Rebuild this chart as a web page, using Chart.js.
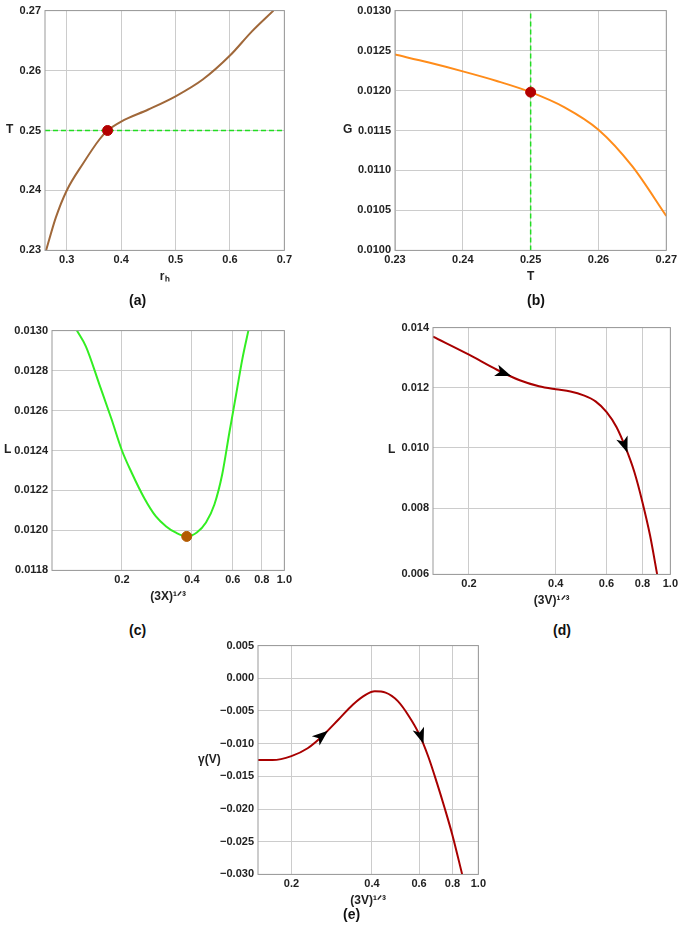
<!DOCTYPE html>
<html>
<head>
<meta charset="utf-8">
<script src="https://cdn.jsdelivr.net/npm/chart.js@4"></script>
<style>
  body { margin: 0; background: #fff; font-family: 'Liberation Sans', Arial, sans-serif; }
  .box { position: absolute; }
  .lbl { position: absolute; font-weight: bold; font-size: 12px; color: #222; }
  .cap { position: absolute; font-weight: bold; font-size: 14px; color: #111; }
</style>
</head>
<body>
<div class="box" style="left:0;top:0;width:295px;height:300px"><canvas id="ca"></canvas></div>
<div class="box" style="left:345px;top:0;width:335px;height:300px"><canvas id="cb"></canvas></div>
<div class="box" style="left:0;top:320px;width:295px;height:288px"><canvas id="cc"></canvas></div>
<div class="box" style="left:378px;top:317px;width:303px;height:295px"><canvas id="cd"></canvas></div>
<div class="box" style="left:200px;top:635px;width:289px;height:277px"><canvas id="ce"></canvas></div>

<div class="lbl" style="left:6px;top:122px">T</div>
<div class="lbl" style="left:343px;top:122px">G</div>
<div class="lbl" style="left:4px;top:442px">L</div>
<div class="lbl" style="left:388px;top:442px">L</div>
<div class="lbl" style="left:198px;top:752px">γ(V)</div>
<div class="cap" style="left:129px;top:292px">(a)</div>
<div class="cap" style="left:527px;top:292px">(b)</div>
<div class="cap" style="left:129px;top:622px">(c)</div>
<div class="cap" style="left:553px;top:622px">(d)</div>
<div class="cap" style="left:343px;top:906px">(e)</div>

<script>
// (a) T vs r_h
const rhA = [0.262, 0.28, 0.3, 0.33, 0.36, 0.375, 0.4, 0.45, 0.5, 0.55, 0.6, 0.64, 0.68];
const tA = [0.23, 0.2355, 0.24, 0.2445, 0.2485, 0.25, 0.2515, 0.2535, 0.2557, 0.2585, 0.2625, 0.2665, 0.27];
const critA = [0.375, 0.25];
const ticksA = [0.3, 0.4, 0.5, 0.6, 0.7];

// (b) G vs T
const tB = [0.23, 0.235, 0.24, 0.245, 0.25, 0.255, 0.26, 0.265, 0.27];
const gB = [0.01245, 0.01235, 0.01224, 0.01212, 0.01198, 0.01179, 0.01151, 0.01105, 0.01043];
const critB = [0.25, 0.01198];

// (c) L vs (3X)^1/3
const xC = [0.128, 0.14, 0.16, 0.18, 0.2, 0.22, 0.25, 0.28, 0.31, 0.34, 0.38, 0.42, 0.46, 0.5, 0.54, 0.58, 0.62, 0.66, 0.7];
const lC = [0.0130, 0.01292, 0.01273, 0.01256, 0.0124, 0.01229, 0.01216, 0.01207, 0.01202, 0.01199, 0.01197, 0.01199, 0.01204, 0.01213, 0.01228, 0.01249, 0.01268, 0.01286, 0.0130];
const critC = [0.38, 0.01197];

// (d) L vs (3V)^1/3
const xD = [0.15, 0.2, 0.25, 0.3, 0.35, 0.4, 0.45, 0.5, 0.55, 0.6, 0.65, 0.7, 0.75, 0.8, 0.85, 0.9];
const lD = [0.0137, 0.0131, 0.0126, 0.01225, 0.01205, 0.01195, 0.01188, 0.01175, 0.01155, 0.0112, 0.0107, 0.0100, 0.0092, 0.0082, 0.0071, 0.0058];
const arrowsD = [[0.27, 0.01245], [0.7, 0.0100]];

// (e) gamma(V) vs (3V)^1/3
const xE = [0.15, 0.17, 0.2, 0.23, 0.26, 0.3, 0.34, 0.38, 0.41, 0.45, 0.5, 0.55, 0.6, 0.65, 0.7, 0.75, 0.8, 0.87];
const gE = [-0.0125, -0.0125, -0.0119, -0.0107, -0.0089, -0.0063, -0.0040, -0.0025, -0.0020, -0.0022, -0.0035, -0.0058, -0.0085, -0.0120, -0.0160, -0.0200, -0.0240, -0.0300];
const arrowsE = [[0.265, -0.0085], [0.615, -0.0093]];

const logTicks = [0.2, 0.4, 0.6, 0.8, 1.0];
const tickFont = { family: 'Liberation Sans', weight: 'bold', size: 11 };
const pts = (xs, ys) => xs.map((x, i) => ({ x, y: ys[i] }));

const framePlugin = {
  id: 'frame',
  afterDraw(chart) {
    const { ctx, chartArea: a } = chart;
    ctx.save();
    ctx.strokeStyle = '#999';
    ctx.lineWidth = 1;
    ctx.strokeRect(a.left, a.top, a.right - a.left, a.bottom - a.top);
    ctx.restore();
  }
};

const arrowPlugin = {
  id: 'arrows',
  afterDatasetsDraw(chart, args, opts) {
    if (!opts.list) return;
    const { ctx, scales } = chart;
    opts.list.forEach(([x, y]) => {
      const px = scales.x.getPixelForValue(x), py = scales.y.getPixelForValue(y);
      const px2 = scales.x.getPixelForValue(x * 1.03), py2 = scales.y.getPixelForValue(opts.at(x * 1.03));
      const ang = Math.atan2(py2 - py, px2 - px);
      ctx.save();
      ctx.translate(px, py);
      ctx.rotate(ang);
      ctx.fillStyle = '#000';
      ctx.beginPath();
      ctx.moveTo(5, 0);
      ctx.lineTo(-11, -6);
      ctx.lineTo(-7, 0);
      ctx.lineTo(-11, 6);
      ctx.closePath();
      ctx.fill();
      ctx.restore();
    });
  }
};

function interp(xs, ys) {
  return x => {
    for (let i = 0; i < xs.length - 1; i++) {
      if (x >= xs[i] && x <= xs[i + 1]) {
        const t = (x - xs[i]) / (xs[i + 1] - xs[i]);
        return ys[i] + t * (ys[i + 1] - ys[i]);
      }
    }
    return ys[ys.length - 1];
  };
}

function fmtY(v, d) {
  const s = (+v).toFixed(d);
  return Math.abs(v) < 1e-9 ? (0).toFixed(d) : s.replace('-', '−');
}

function makePanel(id, o) {
  const xScale = {
    type: o.log ? 'logarithmic' : 'linear',
    min: o.xmin, max: o.xmax,
    grid: { color: '#ccc', drawTicks: false },
    border: { display: false },
    ticks: { font: tickFont, color: '#222', padding: 3, autoSkip: false, maxRotation: 0,
      callback: v => (+v).toFixed(o.xdec) },
    title: { display: true, text: o.xtitle, font: { family: 'Liberation Sans', weight: 'bold', size: 12 }, color: '#222', padding: { top: 0 } },
    afterBuildTicks: s => { s.ticks = o.xticks.filter(v => v >= o.xmin - 1e-9 && v <= o.xmax + 1e-9).map(v => ({ value: v })); }
  };
  new Chart(document.getElementById(id), {
    type: 'scatter',
    data: { datasets: o.datasets },
    options: {
      responsive: true, maintainAspectRatio: false, animation: false,
      layout: { padding: { top: o.pt, right: 5, bottom: o.pb || 0 } },
      plugins: { legend: { display: false }, tooltip: { enabled: false }, arrows: { list: o.arrows, at: o.at } },
      scales: {
        x: xScale,
        y: {
          min: o.ymin, max: o.ymax,
          grid: { color: '#ccc', drawTicks: false },
          border: { display: false },
          ticks: { font: tickFont, color: '#222', padding: 4, stepSize: o.ystep, callback: v => fmtY(v, o.ydec) },
          afterFit: s => { s.width = o.yw; }
        }
      }
    },
    plugins: [framePlugin, arrowPlugin]
  });
}

const curve = (data, color, w) => ({ data, showLine: true, borderColor: color, borderWidth: w || 2, pointRadius: 0, tension: 0.4, cubicInterpolationMode: 'monotone' });
const dot = (p, color) => ({ data: [{ x: p[0], y: p[1] }], pointRadius: 5, backgroundColor: color, borderColor: color });

makePanel('ca', {
  xmin: 0.26, xmax: 0.7, xticks: ticksA, xdec: 1, ymin: 0.23, ymax: 0.27, ystep: 0.01, ydec: 2,
  xtitle: 'rₕ', yw: 45, pt: 5, pb: 12,
  datasets: [
    dot(critA, '#b30000'),
    { data: [{ x: 0.26, y: 0.25 }, { x: 0.7, y: 0.25 }], showLine: true, borderColor: '#22dd22', borderWidth: 1.5, borderDash: [5, 3], pointRadius: 0 },
    curve(pts(rhA, tA), '#a0683a')
  ]
});

makePanel('cb', {
  xmin: 0.23, xmax: 0.27, xticks: [0.23, 0.24, 0.25, 0.26, 0.27], xdec: 2, ymin: 0.01, ymax: 0.013, ystep: 0.0005, ydec: 4,
  xtitle: 'T', yw: 50, pt: 5, pb: 12,
  datasets: [
    dot(critB, '#b30000'),
    { data: [{ x: 0.25, y: 0.01 }, { x: 0.25, y: 0.013 }], showLine: true, borderColor: '#22dd22', borderWidth: 1.5, borderDash: [5, 3], pointRadius: 0 },
    curve(pts(tB, gB), '#ff8c1a')
  ]
});

makePanel('cc', {
  log: true, xmin: 0.1, xmax: 1.0, xticks: logTicks, xdec: 1, ymin: 0.0118, ymax: 0.013, ystep: 0.0002, ydec: 4,
  xtitle: '(3X)¹ᐟ³', yw: 52, pt: 10,
  datasets: [dot(critC, '#b35a00'), curve(pts(xC, lC), '#33ee22')]
});

makePanel('cd', {
  log: true, xmin: 0.15, xmax: 1.0, xticks: logTicks, xdec: 1, ymin: 0.0058, ymax: 0.014, ystep: 0.002, ydec: 3,
  xtitle: '(3V)¹ᐟ³', yw: 55, pt: 10,
  arrows: arrowsD, at: interp(xD, lD),
  datasets: [curve(pts(xD, lD), '#a80000')]
});

makePanel('ce', {
  log: true, xmin: 0.15, xmax: 1.0, xticks: logTicks, xdec: 1, ymin: -0.03, ymax: 0.005, ystep: 0.005, ydec: 3,
  xtitle: '(3V)¹ᐟ³', yw: 58, pt: 10,
  arrows: arrowsE, at: interp(xE, gE),
  datasets: [curve(pts(xE, gE), '#a80000')]
});
</script>
</body>
</html>
